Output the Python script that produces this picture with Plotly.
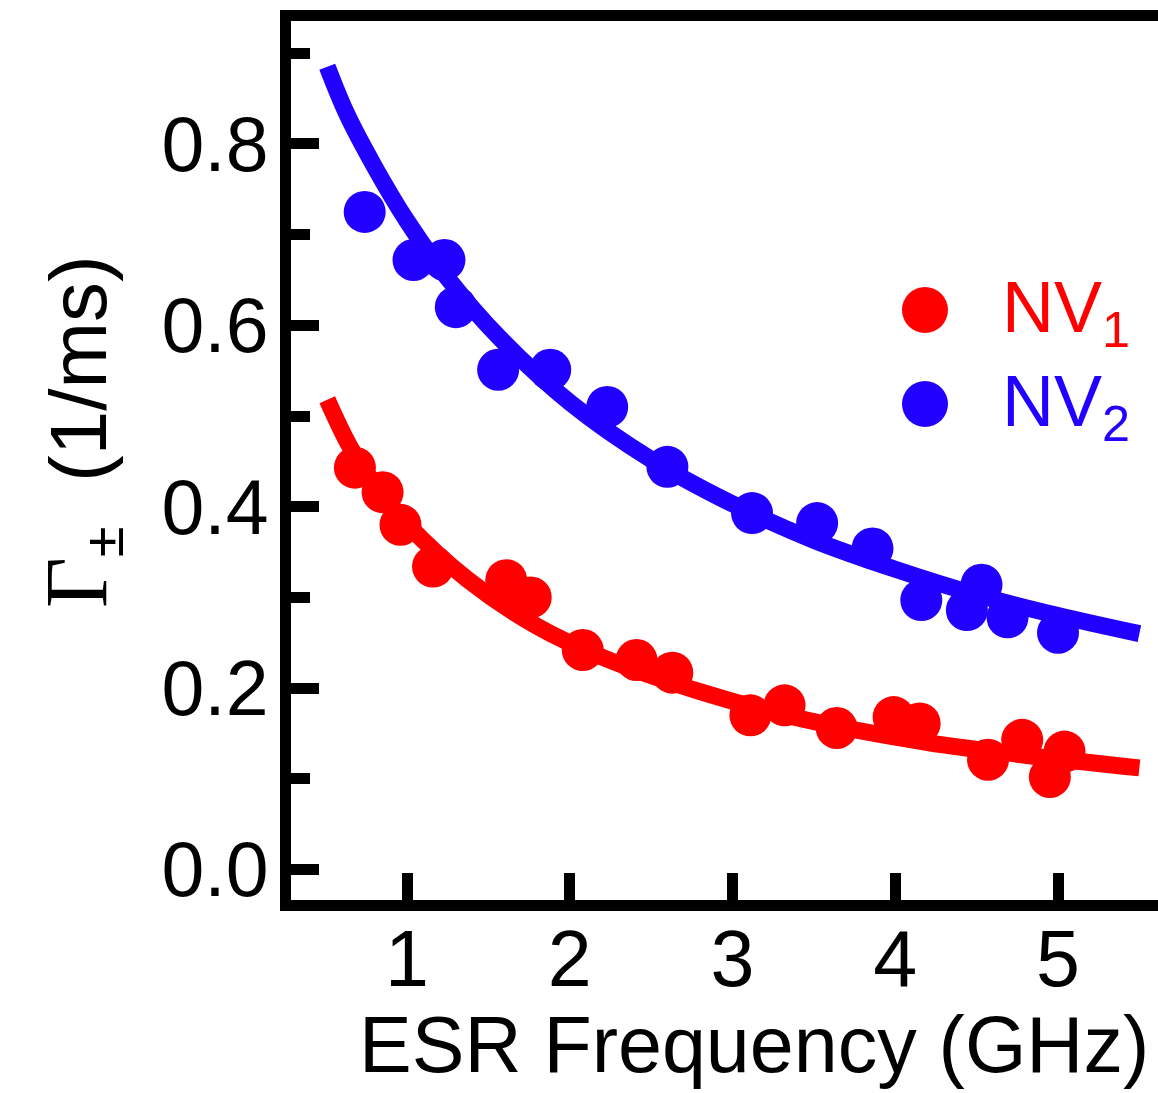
import plotly.graph_objects as go

# ---- data ----
nv1_freq = [0.68, 0.85, 0.96, 1.16, 1.61, 1.76, 2.08, 2.41, 2.63, 3.11, 3.32, 3.64, 3.99, 4.15, 4.57, 4.78, 4.95, 5.04]
nv1_rate = [0.443, 0.416, 0.380, 0.334, 0.319, 0.300, 0.242, 0.231, 0.217, 0.170, 0.181, 0.156, 0.168, 0.161, 0.121, 0.143, 0.102, 0.130]

nv2_freq = [0.74, 1.04, 1.23, 1.30, 1.56, 1.88, 2.23, 2.60, 3.12, 3.52, 3.86, 4.16, 4.44, 4.53, 4.69, 5.00]
nv2_rate = [0.725, 0.672, 0.672, 0.620, 0.551, 0.551, 0.510, 0.444, 0.393, 0.382, 0.354, 0.297, 0.286, 0.314, 0.278, 0.261]

fit1_freq = [0.51, 0.65, 0.80, 1.00, 1.37, 1.80, 2.20, 2.80, 3.40, 4.20, 4.80, 5.50]
fit1_rate = [0.518, 0.466, 0.425, 0.381, 0.320, 0.268, 0.234, 0.196, 0.167, 0.140, 0.126, 0.112]

fit2_freq = [0.51, 0.63, 0.80, 1.00, 1.25, 1.57, 2.00, 2.50, 3.00, 3.50, 4.00, 4.50, 5.00, 5.50]
fit2_rate = [0.885, 0.833, 0.775, 0.715, 0.652, 0.586, 0.515, 0.452, 0.403, 0.363, 0.331, 0.303, 0.280, 0.260]

x_ticks = [1, 2, 3, 4, 5]
y_ticks = [0.0, 0.2, 0.4, 0.6, 0.8]
series_names = ["NV<sub>1</sub>", "NV<sub>2</sub>"]

RED = "#ff0000"
BLUE = "#2200ff"
FONT = "Liberation Sans, Arial, sans-serif"

W, H = 1158, 1093
L, R, T, B = 291, 0, 21, 193
pw, ph = W - L - R, H - T - B

def px_x(p):
    return (p - L) / pw

def px_y(p):
    return (H - B - p) / ph

fig = go.Figure()

fig.add_trace(go.Scatter(x=fit1_freq, y=fit1_rate, mode="lines",
                         line=dict(color=RED, width=17, shape="spline"), showlegend=False))
fig.add_trace(go.Scatter(x=fit2_freq, y=fit2_rate, mode="lines",
                         line=dict(color=BLUE, width=17, shape="spline"), showlegend=False))
fig.add_trace(go.Scatter(x=nv1_freq, y=nv1_rate, mode="markers",
                         marker=dict(color=RED, size=42, line=dict(width=0)), showlegend=False))
fig.add_trace(go.Scatter(x=nv2_freq, y=nv2_rate, mode="markers",
                         marker=dict(color=BLUE, size=42, line=dict(width=0)), showlegend=False))

# legend keys on an invisible overlay axis
fig.add_trace(go.Scatter(x=[px_x(925), px_x(925)], y=[px_y(310), px_y(404)],
                         mode="markers", xaxis="x2", yaxis="y2",
                         marker=dict(color=[RED, BLUE], size=46, line=dict(width=0)),
                         showlegend=False, hoverinfo="skip"))

fig.update_layout(
    width=W, height=H,
    margin=dict(l=L, r=R, t=T, b=B, pad=0),
    plot_bgcolor="white", paper_bgcolor="white",
    showlegend=False,
    font=dict(family=FONT, color="black", size=78),
    xaxis=dict(range=[1 - (407 - L) / 162.75, 5 + (W - 1058) / 162.75],
               tickvals=x_ticks, ticktext=[str(v) for v in x_ticks],
               ticks="inside", ticklen=27, tickwidth=11, tickcolor="black",
               ticklabelstandoff=-20,
               showline=True, linewidth=11, linecolor="black", mirror=True,
               showgrid=False, zeroline=False,
               tickfont=dict(family=FONT, size=79, color="black")),
    yaxis=dict(range=[-(900 - 869.5) / 907, (869.5 - 21) / 907],
               tickvals=y_ticks, ticktext=[f"{v:.1f}" for v in y_ticks],
               ticks="inside", ticklen=28, tickwidth=11, tickcolor="black",
               ticklabelstandoff=-4,
               minor=dict(dtick=0.1, ticks="inside", ticklen=19, tickwidth=11, tickcolor="black"),
               showline=True, linewidth=11, linecolor="black", mirror=False,
               showgrid=False, zeroline=False,
               tickfont=dict(family=FONT, size=77, color="black")),
    xaxis2=dict(domain=[0, 1], overlaying="x", anchor="y2", range=[0, 1], visible=False),
    yaxis2=dict(domain=[0, 1], overlaying="y", anchor="x2", range=[0, 1], visible=False),
)

annotations = [
    dict(text="ESR Frequency (GHz)", x=px_x(754), y=px_y(1044), xref="paper", yref="paper",
         xanchor="center", yanchor="middle", showarrow=False,
         font=dict(family=FONT, size=79, color="black")),
    dict(text="<span style='font-family:Liberation Serif, Times New Roman, serif; font-size:88px'>Γ</span><sub>±</sub>  (1/ms)",
         x=px_x(82), y=px_y(432), xref="paper", yref="paper", textangle=-90,
         xanchor="center", yanchor="middle", showarrow=False,
         font=dict(family=FONT, size=80, color="black")),
    dict(text=series_names[0], x=px_x(1000), y=px_y(312), xref="paper", yref="paper",
         xanchor="left", yanchor="middle", showarrow=False,
         font=dict(family=FONT, size=72, color=RED)),
    dict(text=series_names[1], x=px_x(1000), y=px_y(406), xref="paper", yref="paper",
         xanchor="left", yanchor="middle", showarrow=False,
         font=dict(family=FONT, size=72, color=BLUE)),
]
fig.update_layout(annotations=annotations)

fig.write_html("out.html")
